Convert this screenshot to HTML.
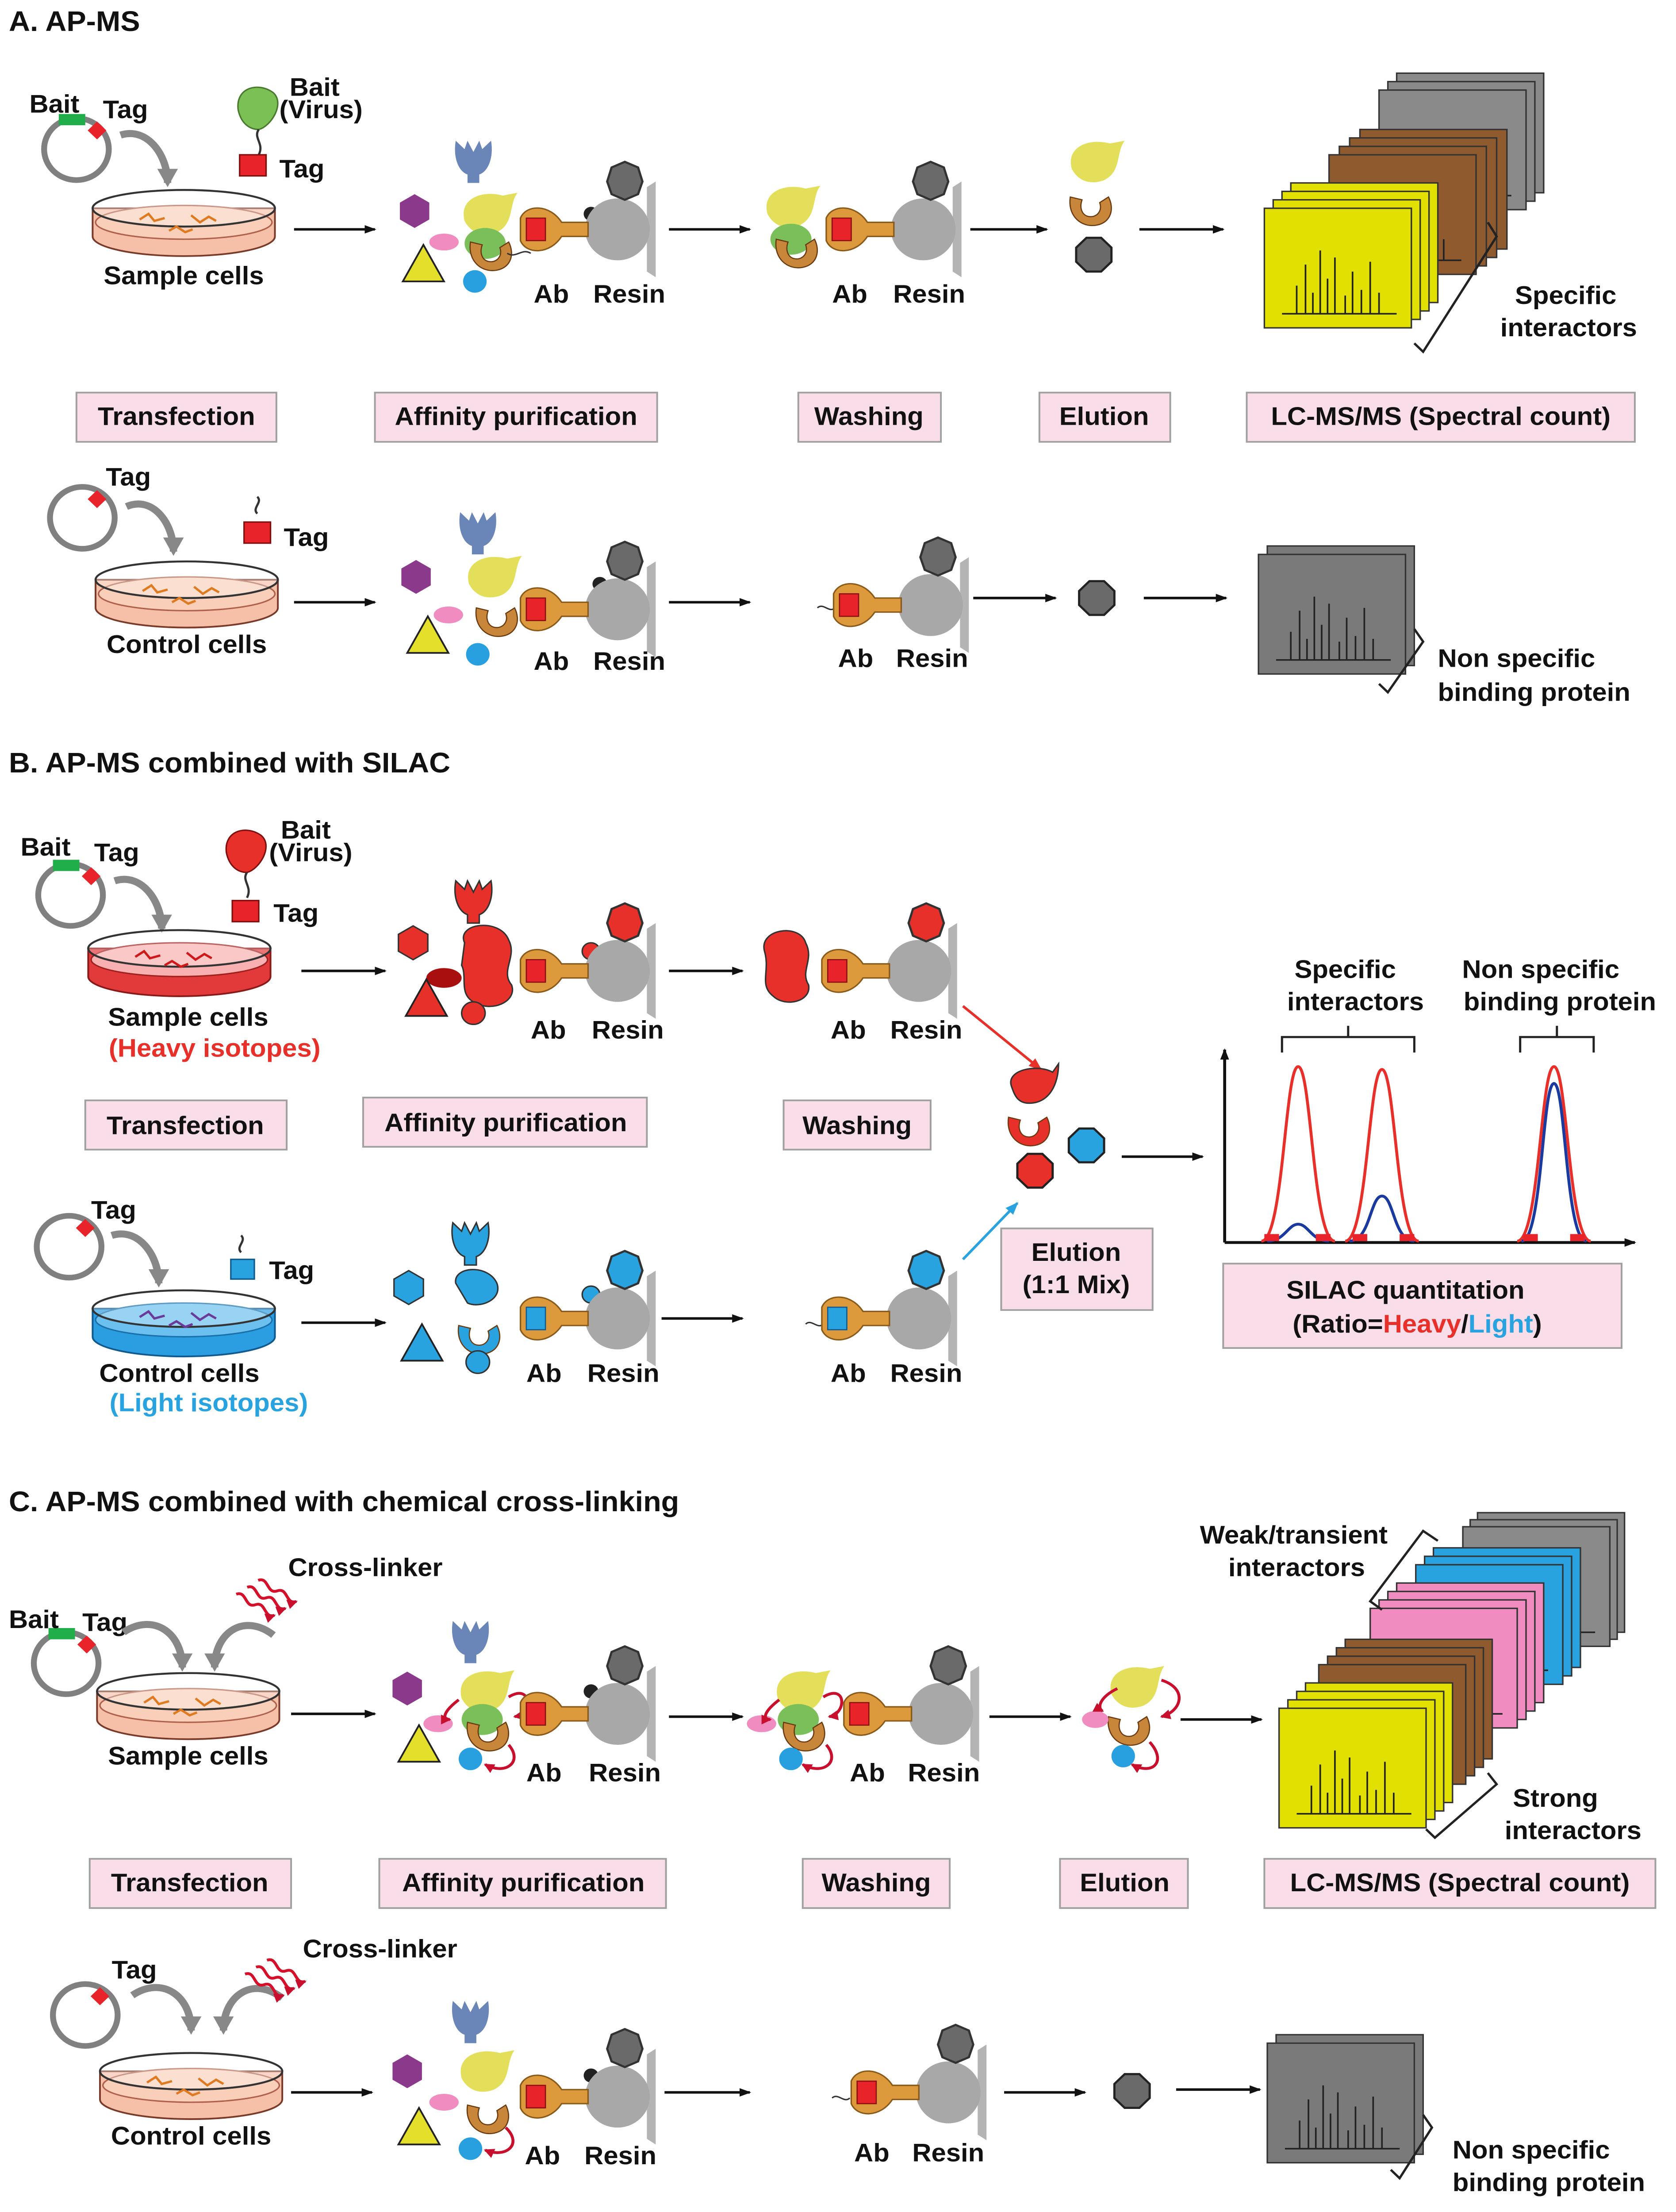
<!DOCTYPE html>
<html><head><meta charset="utf-8"><style>
html,body{margin:0;padding:0;background:#fff;width:100%;height:100%;overflow:hidden}
svg{position:absolute;left:0;top:0;display:block;width:100vw;height:100vh}
text{font-family:"Liberation Sans",Arial,sans-serif;font-weight:bold;fill:#111}
</style></head><body>
<svg viewBox="0 0 1140 1572" preserveAspectRatio="none" xmlns="http://www.w3.org/2000/svg">
<defs>
<marker id="ah" markerWidth="8" markerHeight="8" refX="7" refY="4" orient="auto" markerUnits="userSpaceOnUse"><path d="M0,1 L8,4 L0,7 Z" fill="#111"/></marker>
<marker id="ahr" markerWidth="9" markerHeight="9" refX="8" refY="4.5" orient="auto" markerUnits="userSpaceOnUse"><path d="M0,1 L9,4.5 L0,8 Z" fill="#e8302a"/></marker>
<marker id="ahb" markerWidth="9" markerHeight="9" refX="8" refY="4.5" orient="auto" markerUnits="userSpaceOnUse"><path d="M0,1 L9,4.5 L0,8 Z" fill="#29a3e0"/></marker>
<marker id="ahg" markerWidth="14" markerHeight="14" refX="10" refY="7" orient="auto" markerUnits="userSpaceOnUse"><path d="M0,0 L13,7 L0,14 Z" fill="#888"/></marker>
<marker id="ahc" markerWidth="7" markerHeight="7" refX="6" refY="3.5" orient="auto" markerUnits="userSpaceOnUse"><path d="M0,0 L7,3.5 L0,7 Z" fill="#c8102e"/></marker>

<g id="pl"><circle r="22" fill="none" stroke="#808080" stroke-width="4"/></g>
<g id="bait"><rect x="-12" y="-25" width="18" height="8" fill="#1fae4a"/><rect x="10" y="-18" width="9" height="9" fill="#e8242a" transform="rotate(45 14 -14)"/></g>
<g id="tagp"><rect x="14" y="-18" width="9" height="9" fill="#e8242a" transform="rotate(45 18 -14)"/></g>

<g id="dishO">
<path d="M-62,-2 L-62,18 A62,14 0 0 0 62,18 L62,-2 Z" fill="#f6c0a8" stroke="#7a3a2a" stroke-width="1.2"/>
<ellipse cx="0" cy="8" rx="60" ry="12" fill="#f9cfba" stroke="#b0604a" stroke-width="1"/>
<ellipse cx="0" cy="-2" rx="62" ry="13" fill="#fff" fill-opacity="0.35" stroke="#333" stroke-width="1.4"/>
<path d="M-30,6 l6,-4 l4,5 l7,-2 M5,3 l6,5 l6,-4 l5,3 M-10,14 l5,-3 l6,4 l5,-2" stroke="#e07a20" stroke-width="1.6" fill="none"/>
</g>
<g id="dishR">
<path d="M-62,-2 L-62,18 A62,14 0 0 0 62,18 L62,-2 Z" fill="#e23a3a" stroke="#8a1a1a" stroke-width="1.2"/>
<ellipse cx="0" cy="6" rx="60" ry="12" fill="#f9b0b0" stroke="#a02020" stroke-width="1"/>
<ellipse cx="0" cy="-2" rx="62" ry="13" fill="#fff" fill-opacity="0.3" stroke="#333" stroke-width="1.4"/>
<path d="M-30,4 l6,-4 l4,5 l7,-2 M5,1 l6,5 l6,-4 l5,3 M-10,10 l5,-3 l6,4 l5,-2" stroke="#d01818" stroke-width="1.6" fill="none"/>
</g>
<g id="dishB">
<path d="M-62,-2 L-62,18 A62,14 0 0 0 62,18 L62,-2 Z" fill="#2a9ee0" stroke="#105a90" stroke-width="1.2"/>
<ellipse cx="0" cy="6" rx="60" ry="12" fill="#6cc0f0" stroke="#1a70a8" stroke-width="1"/>
<ellipse cx="0" cy="-2" rx="62" ry="13" fill="#fff" fill-opacity="0.3" stroke="#333" stroke-width="1.4"/>
<path d="M-30,4 l6,-4 l4,5 l7,-2 M5,1 l6,5 l6,-4 l5,3 M-10,10 l5,-3 l6,4 l5,-2" stroke="#6a3a9a" stroke-width="1.6" fill="none"/>
</g>

<g id="resin">
<polygon points="20,-30 26,-34 26,34 20,30" fill="#b4b4b4"/>
<circle r="22" fill="#a8a8a8"/>
<path d="M-20,-5 L-38,-5 C-46,-18 -62,-18 -66,-8 L-66,8 C-62,18 -46,18 -38,5 L-20,5 Z" fill="#dc9a3c" stroke="#8a5a1a" stroke-width="1"/>
</g>
<g id="raG"><use href="#resin"/><polygon points="-4,-44 5,-48 14,-44 17,-34 14,-25 5,-21 -4,-25 -7,-34" fill="#6a6a6a" stroke="#333" stroke-width="1.5"/><rect x="-62" y="-8" width="13" height="16" fill="#e8242a" stroke="#8a1010" stroke-width="0.8"/></g>
<g id="raR"><use href="#resin"/><polygon points="-4,-44 5,-48 14,-44 17,-34 14,-25 5,-21 -4,-25 -7,-34" fill="#e8302a" stroke="#333" stroke-width="1.5"/><rect x="-62" y="-8" width="13" height="16" fill="#e8242a" stroke="#8a1010" stroke-width="0.8"/></g>
<g id="raB"><use href="#resin"/><polygon points="-4,-44 5,-48 14,-44 17,-34 14,-25 5,-21 -4,-25 -7,-34" fill="#29a3e0" stroke="#333" stroke-width="1.5"/><rect x="-62" y="-8" width="13" height="16" fill="#29a3e0" stroke="#105a90" stroke-width="0.8"/></g>

<g id="rec"><path d="M-12,-16 C-14,-4 -10,6 -4,8 L-4,14 L4,14 L4,8 C10,6 14,-4 12,-16 L6,-10 L4,-16 L0,-8 L-4,-16 L-6,-10 Z"/></g>
<g id="hex"><polygon points="0,-12 10,-6 10,6 0,12 -10,6 -10,-6"/></g>
<g id="oct"><polygon points="-5,-12 5,-12 12,-5 12,5 5,12 -5,12 -12,5 -12,-5" stroke="#222" stroke-width="1.5"/></g>
<g id="tri"><polygon points="0,-14 14,12 -14,12" stroke="#222" stroke-width="1.2"/></g>
<g id="yel"><path d="M-16,2 C-20,-14 -4,-20 10,-16 L20,-18 C14,-10 18,4 6,10 C-4,14 -12,10 -16,2 Z"/></g>
<g id="crs"><path d="M-14,-8 C-16,6 -6,14 4,12 C14,10 16,0 12,-8 L6,-4 C8,2 4,6 0,6 C-6,6 -8,0 -6,-6 Z" stroke="#6a3a10" stroke-width="0.8"/></g>

<g id="sp"><rect x="0" y="0" width="100" height="85" stroke="#333" stroke-width="1"/>
<path d="M12,75 H90 M22,75 V55 M28,75 V40 M33,75 V60 M38,75 V30 M43,75 V50 M48,75 V35 M55,75 V62 M60,75 V45 M66,75 V58 M72,75 V38 M78,75 V60" stroke="#222" stroke-width="1.1" fill="none"/></g>

<g id="xl" fill="none" stroke="#d4102a" stroke-width="2">
<path d="M0,0 c5,-6 10,6 15,0 c5,-6 10,6 15,0" marker-end="url(#ahc)"/>
<path d="M-4,8 c5,-6 10,6 15,0 c5,-6 10,6 15,0" marker-end="url(#ahc)"/>
<path d="M-8,16 c5,-6 10,6 15,0 c5,-6 10,6 15,0" marker-end="url(#ahc)"/>
</g>
</defs>
<rect width="1140" height="1572" fill="#fff"/>

<!-- ============ A ============ -->
<text x="6" y="22" font-size="20">A. AP-MS</text>
<use href="#pl" x="52" y="106"/><use href="#bait" x="52" y="106"/>
<text x="20" y="80" font-size="18">Bait</text><text x="70" y="84" font-size="18">Tag</text>
<path d="M82,96 C100,90 114,110 114,130" fill="none" stroke="#888" stroke-width="5" marker-end="url(#ahg)"/>
<path d="M162,78 C160,62 176,58 186,66 C194,74 184,90 176,92 C170,92 164,88 162,78 Z" fill="#7bc055" stroke="#4a7a30"/>
<path d="M176,92 c-4,6 4,10 0,18" stroke="#333" fill="none" stroke-width="1.5"/>
<rect x="163" y="110" width="18" height="15" fill="#e8242a" stroke="#801010"/>
<text x="197" y="68" font-size="18">Bait</text><text x="190" y="84" font-size="18">(Virus)</text>
<text x="190" y="126" font-size="18">Tag</text>
<use href="#dishO" x="125" y="150"/>
<text x="125" y="202" font-size="18" text-anchor="middle">Sample cells</text>
<line x1="200" y1="163" x2="255" y2="163" stroke="#111" stroke-width="1.8" marker-end="url(#ah)"/>
<use href="#rec" x="322" y="116" fill="#6a85b8"/>
<use href="#hex" x="282" y="150" fill="#8b3a8b"/>
<use href="#yel" x="332" y="155" fill="#e3df5a"/>
<ellipse cx="330" cy="173" rx="14" ry="11" fill="#7bbf5a"/>
<use href="#crs" x="334" y="180" fill="#c8863a"/>
<ellipse cx="302" cy="172" rx="10" ry="6" fill="#f08cc0"/>
<circle cx="323" cy="200" r="8" fill="#28a0e0"/>
<use href="#tri" x="288" y="188" fill="#e3df2a"/>
<circle cx="402" cy="152" r="5" fill="#222"/>
<path d="M345,180 c6,4 10,-4 16,0" stroke="#333" fill="none"/>
<use href="#raG" x="420" y="163"/>
<text x="375" y="215" font-size="18" text-anchor="middle">Ab</text><text x="428" y="215" font-size="18" text-anchor="middle">Resin</text>
<line x1="455" y1="163" x2="510" y2="163" stroke="#111" stroke-width="1.8" marker-end="url(#ah)"/>
<use href="#yel" x="538" y="150" fill="#e3df5a"/>
<ellipse cx="538" cy="170" rx="14" ry="11" fill="#7bbf5a"/>
<use href="#crs" x="542" y="178" fill="#c8863a"/>
<use href="#raG" x="628" y="163"/>
<text x="578" y="215" font-size="18" text-anchor="middle">Ab</text><text x="632" y="215" font-size="18" text-anchor="middle">Resin</text>
<line x1="660" y1="163" x2="712" y2="163" stroke="#111" stroke-width="1.8" marker-end="url(#ah)"/>
<use href="#yel" x="745" y="118" fill="#e3df5a"/>
<use href="#crs" x="742" y="148" fill="#c8863a"/>
<use href="#oct" x="744" y="181" fill="#6a6a6a"/>
<line x1="775" y1="163" x2="832" y2="163" stroke="#111" stroke-width="1.8" marker-end="url(#ah)"/>
<g fill="#8a8a8a"><use href="#sp" x="950" y="52"/><use href="#sp" x="944" y="58"/><use href="#sp" x="938" y="64"/></g>
<g fill="#8e5a2e"><use href="#sp" x="925" y="92"/><use href="#sp" x="918" y="98"/><use href="#sp" x="911" y="104"/><use href="#sp" x="904" y="110"/></g>
<g fill="#e2e000"><use href="#sp" x="878" y="130"/><use href="#sp" x="872" y="136"/><use href="#sp" x="866" y="142"/><use href="#sp" x="860" y="148"/></g>
<path d="M1012,158 L1018,168 L968,250 L962,244" fill="none" stroke="#222" stroke-width="1.6"/>
<text x="1065" y="216" font-size="18" text-anchor="middle">Specific</text><text x="1067" y="239" font-size="18" text-anchor="middle">interactors</text>
<g fill="#f9dde9" stroke="#a0a0a0" stroke-width="1.2">
<rect x="52" y="279" width="136" height="35"/><rect x="255" y="279" width="192" height="35"/><rect x="543" y="279" width="97" height="35"/><rect x="707" y="279" width="89" height="35"/><rect x="848" y="279" width="264" height="35"/></g>
<g font-size="18" text-anchor="middle"><text x="120" y="302">Transfection</text><text x="351" y="302">Affinity purification</text><text x="591" y="302">Washing</text><text x="751" y="302">Elution</text><text x="980" y="302">LC-MS/MS (Spectral count)</text></g>
<use href="#pl" x="56" y="368"/><use href="#tagp" x="48" y="368"/>
<text x="72" y="345" font-size="18">Tag</text>
<path d="M86,360 C104,352 118,372 118,392" fill="none" stroke="#888" stroke-width="5" marker-end="url(#ahg)"/>
<path d="M175,365 c-4,-4 4,-8 0,-12" stroke="#333" fill="none" stroke-width="1.5"/>
<rect x="166" y="371" width="18" height="15" fill="#e8242a" stroke="#801010"/>
<text x="193" y="388" font-size="18">Tag</text>
<use href="#dishO" x="127" y="414"/>
<text x="127" y="464" font-size="18" text-anchor="middle">Control cells</text>
<line x1="200" y1="428" x2="255" y2="428" stroke="#111" stroke-width="1.8" marker-end="url(#ah)"/>
<use href="#rec" x="325" y="380" fill="#6a85b8"/>
<use href="#hex" x="283" y="410" fill="#8b3a8b"/>
<use href="#yel" x="335" y="413" fill="#e3df5a"/>
<ellipse cx="305" cy="437" rx="10" ry="6" fill="#f08cc0"/>
<use href="#crs" x="338" y="440" fill="#c8863a"/>
<circle cx="325" cy="465" r="8" fill="#28a0e0"/>
<use href="#tri" x="291" y="452" fill="#e3df2a"/>
<circle cx="408" cy="415" r="5" fill="#222"/>
<use href="#raG" x="420" y="433"/>
<text x="375" y="476" font-size="18" text-anchor="middle">Ab</text><text x="428" y="476" font-size="18" text-anchor="middle">Resin</text>
<line x1="455" y1="428" x2="510" y2="428" stroke="#111" stroke-width="1.8" marker-end="url(#ah)"/>
<path d="M556,432 c4,-4 8,4 12,0" stroke="#333" fill="none"/>
<use href="#raG" x="633" y="430"/>
<text x="582" y="474" font-size="18" text-anchor="middle">Ab</text><text x="634" y="474" font-size="18" text-anchor="middle">Resin</text>
<line x1="662" y1="425" x2="718" y2="425" stroke="#111" stroke-width="1.8" marker-end="url(#ah)"/>
<use href="#oct" x="746" y="425" fill="#6a6a6a"/>
<line x1="778" y1="425" x2="834" y2="425" stroke="#111" stroke-width="1.8" marker-end="url(#ah)"/>
<g fill="#7a7a7a"><use href="#sp" x="862" y="388"/><use href="#sp" x="856" y="394"/></g>
<path d="M962,447 L968,456 L944,492 L938,486" fill="none" stroke="#222" stroke-width="1.6"/>
<text x="978" y="474" font-size="18">Non specific</text><text x="978" y="498" font-size="18">binding protein</text>

<!-- ============ B ============ -->
<text x="6" y="549" font-size="20">B. AP-MS combined with SILAC</text>
<use href="#pl" x="48" y="636"/><use href="#bait" x="48" y="636"/>
<text x="14" y="608" font-size="18">Bait</text><text x="64" y="612" font-size="18">Tag</text>
<path d="M78,626 C96,620 110,640 110,660" fill="none" stroke="#888" stroke-width="5" marker-end="url(#ahg)"/>
<path d="M154,606 C152,590 168,586 178,594 C186,602 176,618 168,620 C162,620 156,616 154,606 Z" fill="#e8302a" stroke="#801010"/>
<path d="M168,620 c-4,6 4,10 0,18" stroke="#333" fill="none" stroke-width="1.5"/>
<rect x="158" y="640" width="18" height="15" fill="#e8242a" stroke="#801010"/>
<text x="191" y="596" font-size="18">Bait</text><text x="183" y="612" font-size="18">(Virus)</text>
<text x="186" y="655" font-size="18">Tag</text>
<use href="#dishR" x="122" y="676"/>
<text x="128" y="729" font-size="18" text-anchor="middle">Sample cells</text>
<text x="146" y="751" font-size="18" text-anchor="middle" style="fill:#e8302a">(Heavy isotopes)</text>
<line x1="205" y1="690" x2="262" y2="690" stroke="#111" stroke-width="1.8" marker-end="url(#ah)"/>
<use href="#rec" x="322" y="642" fill="#e8302a" stroke="#333"/>
<use href="#hex" x="281" y="670" fill="#e8302a" stroke="#333"/>
<ellipse cx="302" cy="695" rx="12" ry="7" fill="#a81010"/>
<use href="#tri" x="290" y="710" fill="#e8302a"/>
<path d="M316,670 C310,656 340,652 346,668 C352,680 340,690 348,700 C352,712 334,720 322,712 C312,706 318,694 314,686 Z" fill="#e8302a" stroke="#333"/>
<circle cx="322" cy="720" r="8" fill="#e8302a" stroke="#333"/>
<circle cx="402" cy="676" r="6" fill="#e8302a" stroke="#333"/>
<use href="#raR" x="420" y="690"/>
<text x="373" y="738" font-size="18" text-anchor="middle">Ab</text><text x="427" y="738" font-size="18" text-anchor="middle">Resin</text>
<line x1="455" y1="690" x2="505" y2="690" stroke="#111" stroke-width="1.8" marker-end="url(#ah)"/>
<path d="M520,676 C516,660 544,656 548,670 C554,682 544,690 550,700 C552,712 534,716 526,708 C516,700 524,690 520,676 Z" fill="#e8302a" stroke="#333"/>
<use href="#raR" x="625" y="690"/>
<text x="577" y="738" font-size="18" text-anchor="middle">Ab</text><text x="630" y="738" font-size="18" text-anchor="middle">Resin</text>
<line x1="655" y1="715" x2="708" y2="760" stroke="#e8302a" stroke-width="1.8" marker-end="url(#ahr)"/>
<g fill="#f9dde9" stroke="#a0a0a0" stroke-width="1.2">
<rect x="58" y="782" width="137" height="35"/><rect x="247" y="780" width="193" height="35"/><rect x="533" y="782" width="100" height="35"/>
<rect x="681" y="873" width="103" height="58"/><rect x="832" y="898" width="271" height="60"/></g>
<g font-size="18" text-anchor="middle"><text x="126" y="806">Transfection</text><text x="344" y="804">Affinity purification</text><text x="583" y="806">Washing</text>
<text x="732" y="896">Elution</text><text x="732" y="919">(1:1 Mix)</text>
<text x="956" y="923">SILAC quantitation</text>
<text x="964" y="947">(Ratio=<tspan style="fill:#e8302a">Heavy</tspan>/<tspan style="fill:#29a3e0">Light</tspan>)</text></g>
<path d="M688,772 C684,760 706,756 716,762 L720,756 C720,770 714,784 700,784 C692,784 690,778 688,772 Z" fill="#e8302a" stroke="#333"/>
<use href="#crs" x="700" y="802" fill="#e8302a"/>
<use href="#oct" x="704" y="832" fill="#e8302a"/>
<use href="#oct" x="739" y="814" fill="#29a3e0"/>
<line x1="763" y1="822" x2="818" y2="822" stroke="#111" stroke-width="1.8" marker-end="url(#ah)"/>
<line x1="833" y1="883" x2="833" y2="746" stroke="#111" stroke-width="2" marker-end="url(#ah)"/>
<line x1="833" y1="883" x2="1112" y2="883" stroke="#111" stroke-width="2" marker-end="url(#ah)"/>
<g fill="none" stroke-width="2">
<path d="M858,882 C873,882 874,758 883,758 C892,758 893,882 908,882" stroke="#e8302a"/>
<path d="M915,882 C930,882 931,760 940,760 C949,760 950,882 965,882" stroke="#e8302a"/>
<path d="M1032,882 C1047,882 1048,758 1057,758 C1066,758 1067,882 1082,882" stroke="#e8302a"/>
<path d="M862,882 C874,882 876,870 883,870 C890,870 892,882 904,882" stroke="#1a3aa0"/>
<path d="M918,882 C932,882 932,850 940,850 C948,850 948,882 962,882" stroke="#1a3aa0"/>
<path d="M1035,882 C1049,882 1049,770 1057,770 C1065,770 1065,882 1079,882" stroke="#1a3aa0"/>
</g>
<g fill="#e8242a"><rect x="860" y="877" width="10" height="5"/><rect x="895" y="877" width="10" height="5"/><rect x="920" y="877" width="10" height="5"/><rect x="952" y="877" width="10" height="5"/><rect x="1036" y="877" width="10" height="5"/><rect x="1068" y="877" width="10" height="5"/></g>
<path d="M872,748 V737 H962 V748 M917,737 V729 M1034,748 V737 H1084 V748 M1059,737 V729" fill="none" stroke="#222" stroke-width="1.5"/>
<text x="915" y="695" font-size="18" text-anchor="middle">Specific</text><text x="922" y="718" font-size="18" text-anchor="middle">interactors</text>
<text x="1048" y="695" font-size="18" text-anchor="middle">Non specific</text><text x="1061" y="718" font-size="18" text-anchor="middle">binding protein</text>
<use href="#pl" x="47" y="886"/><use href="#tagp" x="40" y="886"/>
<text x="62" y="866" font-size="18">Tag</text>
<path d="M76,878 C94,872 108,892 108,912" fill="none" stroke="#888" stroke-width="5" marker-end="url(#ahg)"/>
<path d="M164,890 c-4,-4 4,-8 0,-12" stroke="#333" fill="none" stroke-width="1.5"/>
<rect x="157" y="895" width="16" height="14" fill="#29a3e0" stroke="#105a90"/>
<text x="183" y="909" font-size="18">Tag</text>
<use href="#dishB" x="125" y="932"/>
<text x="122" y="982" font-size="18" text-anchor="middle">Control cells</text>
<text x="142" y="1003" font-size="18" text-anchor="middle" style="fill:#29a3e0">(Light isotopes)</text>
<line x1="205" y1="940" x2="262" y2="940" stroke="#111" stroke-width="1.8" marker-end="url(#ah)"/>
<use href="#rec" x="320" y="885" fill="#29a3e0" stroke="#333"/>
<use href="#hex" x="278" y="915" fill="#29a3e0" stroke="#333"/>
<path d="M310,912 C308,900 332,898 338,912 C342,924 326,930 318,926 Z" fill="#29a3e0" stroke="#333"/>
<use href="#tri" x="287" y="955" fill="#29a3e0"/>
<use href="#crs" x="326" y="950" fill="#29a3e0"/>
<circle cx="325" cy="968" r="8" fill="#29a3e0" stroke="#333"/>
<circle cx="402" cy="920" r="6" fill="#29a3e0" stroke="#333"/>
<use href="#raB" x="420" y="937"/>
<text x="370" y="982" font-size="18" text-anchor="middle">Ab</text><text x="424" y="982" font-size="18" text-anchor="middle">Resin</text>
<line x1="450" y1="937" x2="505" y2="937" stroke="#111" stroke-width="1.8" marker-end="url(#ah)"/>
<path d="M548,941 c4,-4 8,4 12,0" stroke="#333" fill="none"/>
<use href="#raB" x="625" y="937"/>
<text x="577" y="982" font-size="18" text-anchor="middle">Ab</text><text x="630" y="982" font-size="18" text-anchor="middle">Resin</text>
<line x1="655" y1="895" x2="692" y2="855" stroke="#29a3e0" stroke-width="1.8" marker-end="url(#ahb)"/>

<!-- ============ C ============ -->
<text x="6" y="1074" font-size="20">C. AP-MS combined with chemical cross-linking</text>
<use href="#pl" x="45" y="1182"/><use href="#bait" x="45" y="1182"/>
<text x="6" y="1157" font-size="18">Bait</text><text x="56" y="1159" font-size="18">Tag</text>
<path d="M84,1160 C104,1146 124,1160 124,1185" fill="none" stroke="#888" stroke-width="5" marker-end="url(#ahg)"/>
<path d="M186,1162 C166,1146 146,1160 146,1185" fill="none" stroke="#888" stroke-width="5" marker-end="url(#ahg)"/>
<use href="#xl" x="170" y="1128" transform="rotate(30 182 1136)"/>
<text x="196" y="1120" font-size="18">Cross-linker</text>
<use href="#dishO" x="128" y="1204"/>
<text x="128" y="1254" font-size="18" text-anchor="middle">Sample cells</text>
<line x1="198" y1="1218" x2="255" y2="1218" stroke="#111" stroke-width="1.8" marker-end="url(#ah)"/>
<use href="#rec" x="320" y="1168" fill="#6a85b8"/>
<use href="#hex" x="277" y="1200" fill="#8b3a8b"/>
<use href="#yel" x="330" y="1205" fill="#e3df5a"/>
<ellipse cx="328" cy="1222" rx="14" ry="11" fill="#7bbf5a"/>
<use href="#crs" x="332" y="1232" fill="#c8863a"/>
<ellipse cx="298" cy="1225" rx="10" ry="6" fill="#f08cc0"/>
<circle cx="320" cy="1250" r="8" fill="#28a0e0"/>
<use href="#tri" x="285" y="1240" fill="#e3df2a"/>
<g fill="none" stroke="#c8102e" stroke-width="2"><path d="M312,1208 C302,1216 300,1222 306,1222" marker-end="url(#ahc)"/><path d="M346,1206 C362,1196 362,1218 350,1220" marker-end="url(#ahc)"/><path d="M346,1240 C356,1252 344,1262 330,1254" marker-end="url(#ahc)"/></g>
<circle cx="402" cy="1202" r="5" fill="#222"/>
<use href="#raG" x="420" y="1218"/>
<text x="370" y="1266" font-size="18" text-anchor="middle">Ab</text><text x="425" y="1266" font-size="18" text-anchor="middle">Resin</text>
<line x1="455" y1="1220" x2="505" y2="1220" stroke="#111" stroke-width="1.8" marker-end="url(#ah)"/>
<use href="#yel" x="545" y="1205" fill="#e3df5a"/>
<ellipse cx="543" cy="1222" rx="14" ry="11" fill="#7bbf5a"/>
<use href="#crs" x="547" y="1232" fill="#c8863a"/>
<ellipse cx="518" cy="1225" rx="10" ry="6" fill="#f08cc0"/>
<circle cx="538" cy="1250" r="8" fill="#28a0e0"/>
<g fill="none" stroke="#c8102e" stroke-width="2"><path d="M530,1208 C520,1216 518,1222 524,1222" marker-end="url(#ahc)"/><path d="M560,1206 C576,1196 576,1218 564,1220" marker-end="url(#ahc)"/><path d="M562,1240 C572,1252 560,1262 546,1254" marker-end="url(#ahc)"/></g>
<use href="#raG" x="640" y="1218"/>
<text x="590" y="1266" font-size="18" text-anchor="middle">Ab</text><text x="642" y="1266" font-size="18" text-anchor="middle">Resin</text>
<line x1="673" y1="1220" x2="728" y2="1220" stroke="#111" stroke-width="1.8" marker-end="url(#ah)"/>
<use href="#yel" x="772" y="1202" fill="#e3df5a"/>
<use href="#crs" x="768" y="1228" fill="#c8863a"/>
<ellipse cx="745" cy="1222" rx="9" ry="6" fill="#f08cc0"/>
<circle cx="764" cy="1248" r="8" fill="#28a0e0"/>
<g fill="none" stroke="#c8102e" stroke-width="2"><path d="M760,1200 C748,1206 746,1214 750,1216" marker-end="url(#ahc)"/><path d="M790,1194 C808,1200 804,1216 790,1220" marker-end="url(#ahc)"/><path d="M782,1238 C794,1252 784,1262 770,1254" marker-end="url(#ahc)"/></g>
<line x1="803" y1="1222" x2="858" y2="1222" stroke="#111" stroke-width="1.8" marker-end="url(#ah)"/>
<g fill="#8a8a8a"><use href="#sp" x="1005" y="1075"/><use href="#sp" x="1000" y="1080"/><use href="#sp" x="995" y="1085"/></g>
<g fill="#29a3e0"><use href="#sp" x="975" y="1100"/><use href="#sp" x="969" y="1106"/><use href="#sp" x="963" y="1112"/></g>
<g fill="#f08cc0"><use href="#sp" x="950" y="1125"/><use href="#sp" x="944" y="1131"/><use href="#sp" x="938" y="1137"/><use href="#sp" x="932" y="1143"/></g>
<g fill="#8e5a2e"><use href="#sp" x="915" y="1165"/><use href="#sp" x="909" y="1171"/><use href="#sp" x="903" y="1177"/><use href="#sp" x="897" y="1183"/></g>
<g fill="#e2e000"><use href="#sp" x="888" y="1196"/><use href="#sp" x="882" y="1202"/><use href="#sp" x="876" y="1208"/><use href="#sp" x="870" y="1214"/></g>
<path d="M978,1095 L968,1088 L932,1138 L940,1144" fill="none" stroke="#222" stroke-width="1.6"/>
<text x="880" y="1097" font-size="18" text-anchor="middle">Weak/transient</text><text x="882" y="1120" font-size="18" text-anchor="middle">interactors</text>
<path d="M1012,1260 L1018,1268 L976,1306 L970,1300" fill="none" stroke="#222" stroke-width="1.6"/>
<text x="1058" y="1284" font-size="18" text-anchor="middle">Strong</text><text x="1070" y="1307" font-size="18" text-anchor="middle">interactors</text>
<g fill="#f9dde9" stroke="#a0a0a0" stroke-width="1.2">
<rect x="61" y="1321" width="137" height="35"/><rect x="258" y="1321" width="195" height="35"/><rect x="546" y="1321" width="100" height="35"/><rect x="721" y="1321" width="87" height="35"/><rect x="860" y="1321" width="266" height="35"/></g>
<g font-size="18" text-anchor="middle"><text x="129" y="1344">Transfection</text><text x="356" y="1344">Affinity purification</text><text x="596" y="1344">Washing</text><text x="765" y="1344">Elution</text><text x="993" y="1344">LC-MS/MS (Spectral count)</text></g>
<use href="#pl" x="58" y="1432"/><use href="#tagp" x="50" y="1432"/>
<text x="76" y="1406" font-size="18">Tag</text>
<path d="M90,1418 C110,1404 130,1418 130,1443" fill="none" stroke="#888" stroke-width="5" marker-end="url(#ahg)"/>
<path d="M192,1420 C172,1404 152,1418 152,1443" fill="none" stroke="#888" stroke-width="5" marker-end="url(#ahg)"/>
<use href="#xl" x="176" y="1398" transform="rotate(30 188 1406)"/>
<text x="206" y="1391" font-size="18">Cross-linker</text>
<use href="#dishO" x="130" y="1474"/>
<text x="130" y="1524" font-size="18" text-anchor="middle">Control cells</text>
<line x1="198" y1="1487" x2="253" y2="1487" stroke="#111" stroke-width="1.8" marker-end="url(#ah)"/>
<use href="#rec" x="320" y="1438" fill="#6a85b8"/>
<use href="#hex" x="277" y="1472" fill="#8b3a8b"/>
<use href="#yel" x="330" y="1475" fill="#e3df5a"/>
<ellipse cx="302" cy="1494" rx="10" ry="6" fill="#f08cc0"/>
<use href="#crs" x="332" y="1504" fill="#c8863a"/>
<circle cx="320" cy="1527" r="8" fill="#28a0e0"/>
<use href="#tri" x="285" y="1512" fill="#e3df2a"/>
<path d="M344,1512 C356,1524 344,1534 330,1528" fill="none" stroke="#c8102e" stroke-width="2" marker-end="url(#ahc)"/>
<circle cx="402" cy="1475" r="5" fill="#222"/>
<use href="#raG" x="420" y="1490"/>
<text x="369" y="1538" font-size="18" text-anchor="middle">Ab</text><text x="422" y="1538" font-size="18" text-anchor="middle">Resin</text>
<line x1="452" y1="1487" x2="510" y2="1487" stroke="#111" stroke-width="1.8" marker-end="url(#ah)"/>
<path d="M566,1491 c4,-4 8,4 12,0" stroke="#333" fill="none"/>
<use href="#raG" x="645" y="1487"/>
<text x="593" y="1536" font-size="18" text-anchor="middle">Ab</text><text x="645" y="1536" font-size="18" text-anchor="middle">Resin</text>
<line x1="683" y1="1487" x2="738" y2="1487" stroke="#111" stroke-width="1.8" marker-end="url(#ah)"/>
<use href="#oct" x="770" y="1486" fill="#6a6a6a"/>
<line x1="800" y1="1485" x2="857" y2="1485" stroke="#111" stroke-width="1.8" marker-end="url(#ah)"/>
<g fill="#7a7a7a"><use href="#sp" x="868" y="1446"/><use href="#sp" x="862" y="1452"/></g>
<path d="M968,1503 L974,1512 L952,1548 L946,1542" fill="none" stroke="#222" stroke-width="1.6"/>
<text x="988" y="1534" font-size="18">Non specific</text><text x="988" y="1557" font-size="18">binding protein</text>
</svg>
</body></html>
